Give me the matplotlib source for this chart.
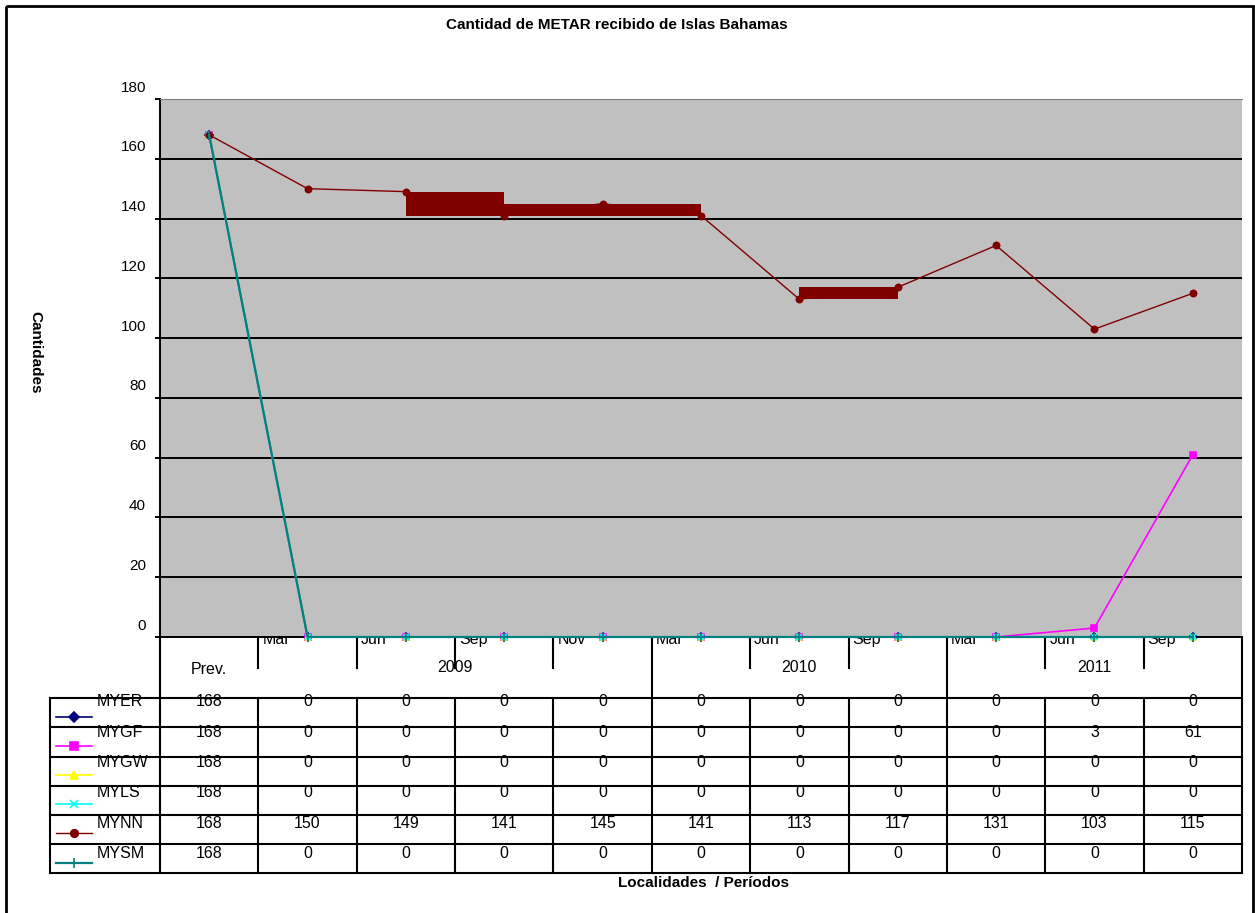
import numpy as np
import matplotlib
matplotlib.use("Agg")
import matplotlib.pyplot as plt
import matplotlib.transforms as mtransforms
from matplotlib.patches import Rectangle

plt.rcParams['font.family'] = ['Liberation Sans', 'DejaVu Sans']

# data
months = ['Prev.', 'Mar', 'Jun', 'Sep', 'Nov', 'Mar', 'Jun', 'Sep', 'Mar', 'Jun', 'Sep']
years = ['2009', '2010', '2011']
year_groups = [(1, 4), (5, 7), (8, 10)]   # first/last category of each year
series_names = ['MYER', 'MYGF', 'MYGW', 'MYLS', 'MYNN', 'MYSM']
myer = [168, 0, 0, 0, 0, 0, 0, 0, 0, 0, 0]
mygf = [168, 0, 0, 0, 0, 0, 0, 0, 0, 3, 61]
mygw = [168, 0, 0, 0, 0, 0, 0, 0, 0, 0, 0]
myls = [168, 0, 0, 0, 0, 0, 0, 0, 0, 0, 0]
mynn = [168, 150, 149, 141, 145, 141, 113, 117, 131, 103, 115]
mysm = [168, 0, 0, 0, 0, 0, 0, 0, 0, 0, 0]
series = [myer, mygf, mygw, myls, mynn, mysm]

colors = ['#000080', '#FF00FF', '#FFFF00', '#00FFFF', '#800000', '#008080']
markers = ['D', 's', '^', 'x', 'o', '|']
msizes = [4, 5, 5, 5, 4.5, 6]
lws = [1.2, 1.2, 1.2, 1.2, 1.0, 1.6]
# segments of MYNN that the original renderer drew as filled blocks
nn_blocks = [2, 3, 4, 6]

W, H = 1255, 913
fig = plt.figure(figsize=(W / 100, H / 100), dpi=100)

# plot area in pixels
L, R, T, B = 160, 1242, 99, 637
n = len(months)
cw = (R - L) / n

def cx(i):
    return L + (i + 0.5) * cw

ax = fig.add_axes([L / W, 1 - B / H, (R - L) / W, (B - T) / H], zorder=2)
ax.set_facecolor('#C0C0C0')
x = np.arange(n)
for k, s in enumerate(series):
    ax.plot(x, s, color=colors[k], marker=markers[k], ms=msizes[k], lw=lws[k],
            mew=1.2, clip_on=False, zorder=3 + k)
    if series_names[k] == 'MYNN':
        for i in nn_blocks:
            lo = min(s[i], s[i + 1])
            hi = max(s[i], s[i + 1])
            ax.fill_between([i, i + 1], [lo, lo], [hi, hi], color=colors[k],
                            lw=0, zorder=3 + k)

ax.set_xlim(-0.5, n - 0.5)
ax.set_ylim(0, 180)
ax.set_yticks(np.arange(0, 181, 20))
ax.set_xticks([])
ax.yaxis.grid(True, color='black', lw=1.4)
ax.get_ygridlines()[-1].set_visible(False)
ax.set_axisbelow(True)
ax.tick_params(axis='y', length=3.6, width=1.4, pad=6.5, direction='out',
               labelsize=11, colors='black')
offset = mtransforms.ScaledTranslation(0, 13 / 100, fig.dpi_scale_trans)
for lab in ax.get_yticklabels():
    lab.set_transform(lab.get_transform() + offset)
ax.spines['left'].set_linewidth(1.4)
ax.spines['bottom'].set_linewidth(1.4)
ax.spines['top'].set_color('#808080')
ax.spines['top'].set_linewidth(0.8)
ax.spines['right'].set_visible(False)

# overlay in pixel coordinates for the data table
ov = fig.add_axes([0, 0, 1, 1], zorder=1)
ov.set_xlim(0, W)
ov.set_ylim(H, 0)
ov.axis('off')
ov.patch.set_visible(False)

tlw = 1.5
fs = 11.5
row_top = 698.3
row_h = 29.17
nrows = len(series)
tab_bottom = row_top + nrows * row_h

# horizontal table lines
for r in range(nrows + 1):
    y = row_top + r * row_h
    ov.plot([50, R], [y, y], color='black', lw=tlw)
# left borders
ov.plot([50, 50], [row_top, tab_bottom], color='black', lw=tlw)
ov.plot([L, L], [B, tab_bottom], color='black', lw=tlw)
# column boundaries
year_edges = [0] + [g[1] + 1 for g in year_groups]
for j in range(1, n + 1):
    xb = L + j * cw
    if j in year_edges:
        ov.plot([xb, xb], [B, tab_bottom], color='black', lw=tlw)
    else:
        ov.plot([xb, xb], [B, 668], color='black', lw=tlw)
        ov.plot([xb, xb], [row_top, tab_bottom], color='black', lw=tlw)

# month labels (tops hidden by the plot area)
for i in range(1, n):
    ov.text(L + i * cw + 4, 644, months[i], fontsize=fs, ha='left',
            va='baseline')
ov.text(cx(0), 669, months[0], fontsize=fs, ha='center', va='center')
for yr, (a, b) in zip(years, year_groups):
    ov.text((cx(a) + cx(b)) / 2, 668, yr, fontsize=fs, ha='center', va='center')

# table values and legend keys
for k, s in enumerate(series):
    ty = 702 + k * 30.3
    ov.text(96.5, ty, series_names[k], fontsize=fs, ha='left', va='center')
    ly = row_top + k * row_h + 18.4
    ov.plot([56, 92], [ly, ly], color=colors[k], lw=lws[k])
    ov.plot([74], [ly], color=colors[k], marker=markers[k], ms=msizes[k] + 1,
            mew=1.2)
    for i, v in enumerate(s):
        ov.text(cx(i), ty, str(v), fontsize=fs, ha='center', va='center')

# outer border
ov.add_patch(Rectangle((6, 6), 1247, 915, fill=False, ec='black', lw=2,
                       clip_on=False))

fig.text(617 / W, 1 - 25 / H, 'Cantidad de METAR recibido de Islas Bahamas',
         fontsize=11, fontweight='bold', ha='center', va='center')
fig.text(35 / W, 1 - 352 / H, 'Cantidades', fontsize=11, fontweight='bold',
         rotation=270, ha='center', va='center')
fig.text(703 / W, 1 - 883 / H, 'Localidades  / Períodos', fontsize=11,
         fontweight='bold', ha='center', va='center')

fig.savefig('out.png', dpi=100)
